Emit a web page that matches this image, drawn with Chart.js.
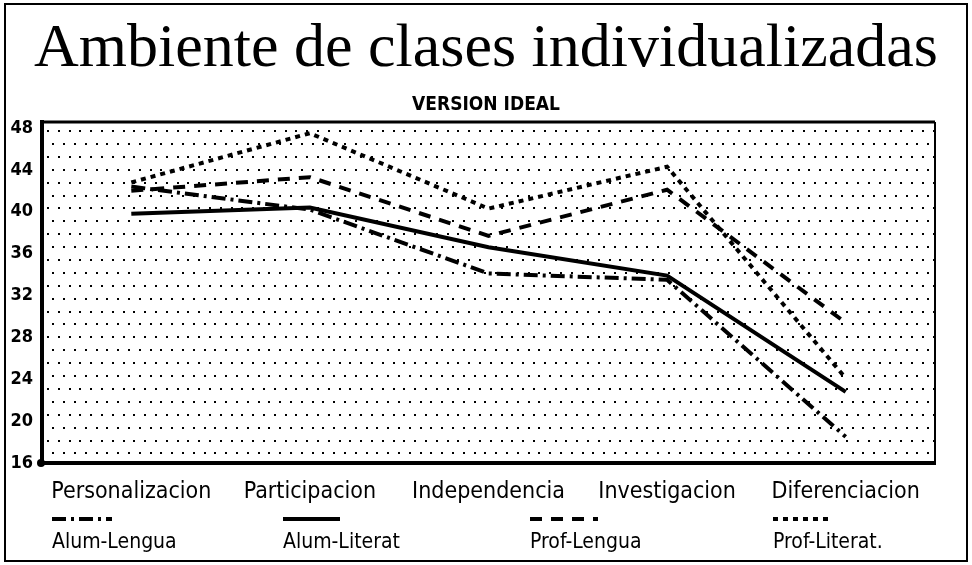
<!DOCTYPE html>
<html>
<head>
<meta charset="utf-8">
<script src="https://cdn.jsdelivr.net/npm/chart.js@4/dist/chart.umd.min.js"></script>
<style>
  html, body { margin: 0; padding: 0; background: #fff; }
  #wrap { position: relative; width: 972px; height: 565px; }
  canvas { display: block; }
</style>
</head>
<body>
<div id="wrap"><canvas id="c" width="972" height="565"></canvas></div>
<script>
const categories = ['Personalizacion', 'Participacion', 'Independencia', 'Investigacion', 'Diferenciacion'];
const seriesNames = ['Alum-Lengua', 'Alum-Literat', 'Prof-Lengua', 'Prof-Literat.'];
const alumLengua  = [42.4, 40.2, 34.1, 33.5, 18.5];
const alumLiterat = [39.8, 40.4, 36.6, 33.9, 22.8];
const profLengua  = [42.0, 43.3, 37.7, 42.1, 29.4];
const profLiterat = [42.8, 47.5, 40.3, 44.3, 24.1];
const yTicks = [16, 20, 24, 28, 32, 36, 40, 44, 48];
const titleText = 'Ambiente de clases individualizadas';
const subtitleText = 'VERSION IDEAL';

const dashes = [[14, 5, 3, 5], [], [12, 9], [5, 5]];
const legendX = [52, 283, 530, 773];
const legendLen = [60, 57, 68, 60];

const LABEL_FONT = "'DejaVu Sans Condensed', 'Liberation Sans Narrow', 'DejaVu Sans', sans-serif";

const decor = {
  id: 'decor',
  beforeDraw(chart) {
    const ctx = chart.ctx;
    const a = chart.chartArea;
    ctx.save();
    ctx.fillStyle = '#fff';
    ctx.fillRect(0, 0, chart.width, chart.height);
    // outer frame
    ctx.strokeStyle = '#000';
    ctx.lineWidth = 2;
    ctx.strokeRect(5, 4, chart.width - 10, chart.height - 8);
    // dotted background
    ctx.fillStyle = '#000';
    let row = 0;
    for (let y = a.top + 8; y < a.bottom - 2; y += 12.9, row++) {
      const off = (row % 2) ? 5.4 : 0;
      for (let x = a.left + 5 + off; x < a.right - 2; x += 10.8) {
        ctx.fillRect(Math.round(x), Math.round(y), 2, 2);
      }
    }
    // top and right borders
    ctx.lineWidth = 3;
    ctx.beginPath();
    ctx.moveTo(a.left, a.top);
    ctx.lineTo(a.right, a.top);
    ctx.stroke();
    ctx.lineWidth = 2;
    ctx.beginPath();
    ctx.moveTo(a.right, a.top);
    ctx.lineTo(a.right, a.bottom);
    ctx.stroke();
    ctx.restore();
  },
  afterDraw(chart) {
    const ctx = chart.ctx;
    const a = chart.chartArea;
    ctx.save();
    // origin blob
    ctx.fillStyle = '#000';
    ctx.beginPath();
    ctx.arc(a.left - 1, a.bottom, 4, 0, Math.PI * 2);
    ctx.fill();
    // legend
    chart.data.datasets.forEach((ds, i) => {
      const x = legendX[i];
      ctx.strokeStyle = '#000';
      ctx.lineWidth = 4;
      ctx.setLineDash(dashes[i]);
      ctx.beginPath();
      ctx.moveTo(x, 519);
      ctx.lineTo(x + legendLen[i], 519);
      ctx.stroke();
      ctx.setLineDash([]);
      ctx.font = "21px " + LABEL_FONT;
      ctx.textAlign = 'left';
      ctx.textBaseline = 'middle';
      ctx.fillText(ds.label, x, 543);
    });
    ctx.restore();
  }
};

const datasets = [alumLengua, alumLiterat, profLengua, profLiterat].map((vals, i) => ({
  label: seriesNames[i],
  data: vals,
  borderColor: '#000',
  backgroundColor: '#000',
  borderWidth: 4,
  borderDash: dashes[i],
  pointRadius: 0,
  tension: 0,
  fill: false,
  yAxisID: 'y'
}));

new Chart(document.getElementById('c'), {
  type: 'line',
  data: { labels: categories, datasets },
  plugins: [decor],
  options: {
    responsive: false,
    animation: false,
    layout: { padding: 0 },
    plugins: {
      legend: { display: false },
      tooltip: { enabled: false },
      title: {
        display: true,
        text: titleText,
        color: '#000',
        font: { family: "'Liberation Serif', serif", size: 62, weight: 'normal', lineHeight: 1 },
        padding: { top: 19, bottom: 2 }
      },
      subtitle: {
        display: true,
        text: subtitleText,
        color: '#000',
        font: { family: LABEL_FONT, size: 19, weight: 'bold', lineHeight: 1 },
        padding: { top: 13, bottom: 7 }
      }
    },
    scales: {
      x: {
        type: 'category',
        offset: true,
        afterFit(scale) { scale.height = 102; },
        grid: { display: false, drawTicks: false },
        border: { display: true, color: '#000', width: 4 },
        ticks: {
          color: '#000',
          padding: 15,
          maxRotation: 0,
          autoSkip: false,
          font: { family: LABEL_FONT, size: 23 }
        }
      },
      y: {
        min: 16,
        max: 48.57,
        afterFit(scale) { scale.width = 42; },
        afterBuildTicks(scale) { scale.ticks = yTicks.map(v => ({ value: v })); },
        grid: { display: false, drawTicks: false },
        border: { display: true, color: '#000', width: 4 },
        ticks: {
          color: '#000',
          padding: 9,
          font: { family: LABEL_FONT, size: 18, weight: 'bold' }
        }
      },
      yRight: {
        position: 'right',
        min: 16,
        max: 48.57,
        afterFit(scale) { scale.width = 37; },
        grid: { display: false, drawTicks: false },
        border: { display: false },
        ticks: { display: false }
      }
    }
  }
});
</script>
</body>
</html>
